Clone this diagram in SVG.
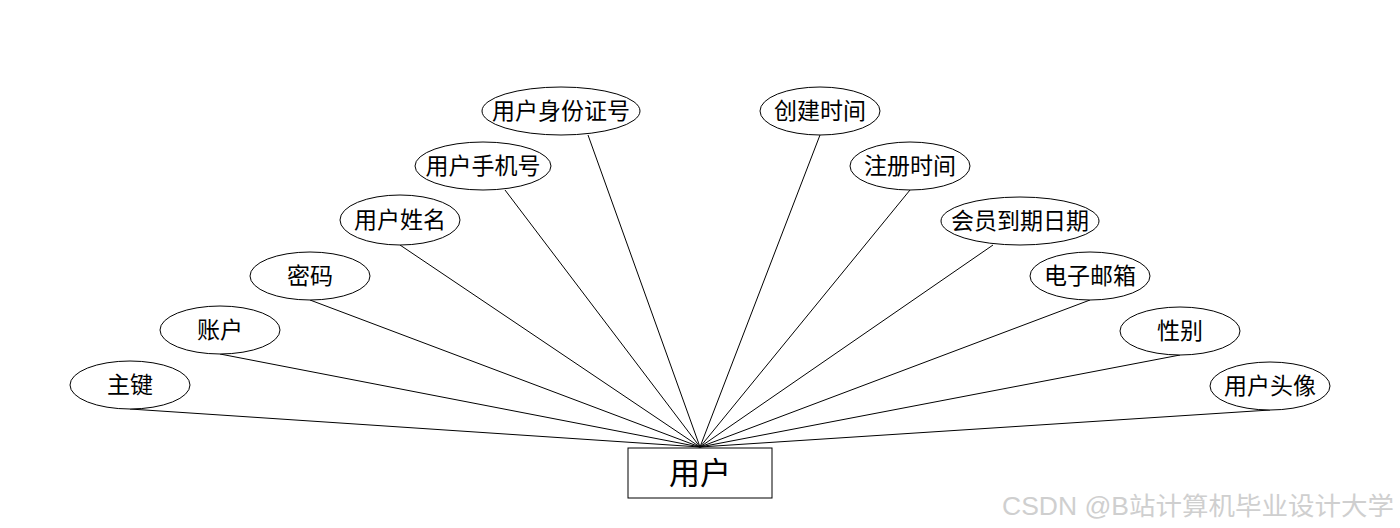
<svg xmlns="http://www.w3.org/2000/svg" width="1400" height="528" viewBox="0 0 1400 528">
<style>
.e{fill:#fff;stroke:#000;stroke-width:1}
.t{font-family:"Liberation Sans","Noto Sans CJK SC",sans-serif;font-size:23px;fill:#000;text-anchor:middle;dominant-baseline:central}
.c line{stroke:#000;stroke-width:1}
</style>
<rect width="1400" height="528" fill="#fff"/>
<g id="connectors" class="c">
<line x1="130" y1="409" x2="700" y2="447"/>
<line x1="220" y1="354" x2="700" y2="447"/>
<line x1="310" y1="300" x2="700" y2="447"/>
<line x1="400" y1="245" x2="700" y2="447"/>
<line x1="505" y1="190" x2="700" y2="447"/>
<line x1="588" y1="135" x2="700" y2="447"/>
<line x1="820" y1="135" x2="700" y2="447"/>
<line x1="910" y1="190" x2="700" y2="447"/>
<line x1="993" y1="245" x2="700" y2="447"/>
<line x1="1090" y1="300" x2="700" y2="447"/>
<line x1="1180" y1="355" x2="700" y2="447"/>
<line x1="1270" y1="410" x2="700" y2="447"/>
</g>
<g id="user">
<rect x="628" y="448" width="144" height="50" fill="#fff" stroke="#000" stroke-width="1"/>
<text x="700" y="473" class="t" style="font-size:31px">用户</text>
</g>
<g id="a1"><ellipse class="e" cx="130" cy="385" rx="60" ry="24"/><text class="t" x="130" y="385">主键</text></g>
<g id="a2"><ellipse class="e" cx="220" cy="330" rx="60" ry="24"/><text class="t" x="220" y="330">账户</text></g>
<g id="a3"><ellipse class="e" cx="310" cy="276" rx="60" ry="24"/><text class="t" x="310" y="276">密码</text></g>
<g id="a4"><ellipse class="e" cx="400" cy="220" rx="60" ry="25"/><text class="t" x="400" y="220">用户姓名</text></g>
<g id="a5"><ellipse class="e" cx="483" cy="166" rx="68" ry="24"/><text class="t" x="483" y="166">用户手机号</text></g>
<g id="a6"><ellipse class="e" cx="561" cy="111" rx="79" ry="24"/><text class="t" x="561" y="111">用户身份证号</text></g>
<g id="a7"><ellipse class="e" cx="820" cy="111" rx="60" ry="24"/><text class="t" x="820" y="111">创建时间</text></g>
<g id="a8"><ellipse class="e" cx="910" cy="166" rx="60" ry="24"/><text class="t" x="910" y="166">注册时间</text></g>
<g id="a9"><ellipse class="e" cx="1020" cy="221" rx="79" ry="24"/><text class="t" x="1020" y="221">会员到期日期</text></g>
<g id="a10"><ellipse class="e" cx="1090" cy="276" rx="60" ry="24"/><text class="t" x="1090" y="276">电子邮箱</text></g>
<g id="a11"><ellipse class="e" cx="1180" cy="331" rx="60" ry="24"/><text class="t" x="1180" y="331">性别</text></g>
<g id="a12"><ellipse class="e" cx="1270" cy="386" rx="60" ry="24"/><text class="t" x="1270" y="386">用户头像</text></g>
<text x="1002" y="506" textLength="392" lengthAdjust="spacingAndGlyphs" style="font-family:'Liberation Sans','Noto Sans CJK SC',sans-serif;font-size:25px;fill:#cfcfcf;dominant-baseline:central">CSDN @B站计算机毕业设计大学</text>
</svg>
